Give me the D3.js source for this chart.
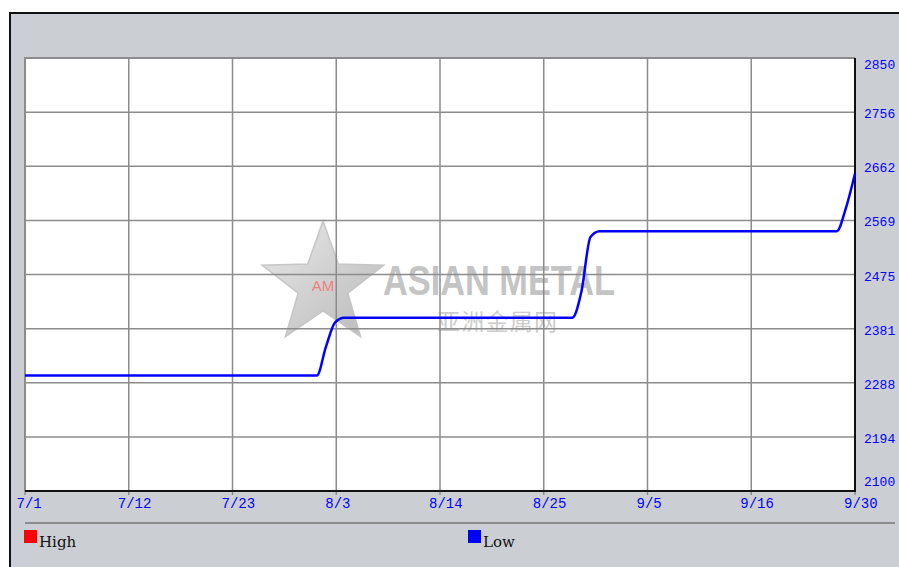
<!DOCTYPE html>
<html>
<head>
<meta charset="utf-8">
<script src="https://cdn.jsdelivr.net/npm/d3@7"></script>
<style>
  html, body { margin: 0; padding: 0; background: #ffffff; }
  svg { display: block; }
  .tick text { font-family: "Liberation Mono", "DejaVu Sans Mono", monospace; }
</style>
</head>
<body>
<div id="chart"></div>
<script>
// chart data
var xTickLabels = ['7/1', '7/12', '7/23', '8/3', '8/14', '8/25', '9/5', '9/16', '9/30'];
var yTickLabels = ['2100', '2194', '2288', '2381', '2475', '2569', '2662', '2756', '2850'];
var lowDays = [0, 32, 33, 34, 35, 60, 61, 62, 63, 89, 90, 91]; // days since 7/1
var lowPrices = [2300, 2300, 2350, 2392, 2400, 2400, 2445, 2540, 2550, 2550, 2590, 2650];
var legendNames = ['High', 'Low'];
var legendColors = ['#ff0000', '#0000ff'];

var W = 899, H = 567;
var PLOT = {left: 25, top: 58, right: 855, bottom: 491};
var DAYS = 91;

var svg = d3.select('#chart').append('svg')
   .attr('width', W)
   .attr('height', H);

// outer panel
svg.append('rect')
   .attr('x', 10).attr('y', 13)
   .attr('width', W + 20).attr('height', H + 20)
   .attr('fill', '#cbcfd3')
   .attr('stroke', '#111')
   .attr('stroke-width', 2);

var x = d3.scaleLinear().domain([0, DAYS]).range([PLOT.left, PLOT.right]);
var y = d3.scaleLinear().domain([2100, 2850]).range([PLOT.bottom, PLOT.top]);

var xTicks = xTickLabels.map(function(d, i){ return i * DAYS / (xTickLabels.length - 1); });
var yTicks = yTickLabels.map(function(d, i){ return 2100 + i * 750 / (yTickLabels.length - 1); });

// plot background
svg.append('rect')
   .attr('x', PLOT.left).attr('y', PLOT.top)
   .attr('width', PLOT.right - PLOT.left)
   .attr('height', PLOT.bottom - PLOT.top)
   .attr('fill', '#ffffff');

// watermark
var wm = svg.append('g');
var starPts = d3.range(10).map(function(i){
   var r = i % 2 ? 26 : 64;
   var a = -Math.PI / 2 + i * Math.PI / 5;
   return [323 + r * Math.cos(a), 285 + r * Math.sin(a)];
});
var grad = svg.append('defs').append('linearGradient')
   .attr('id', 'starGrad').attr('x1', 0).attr('y1', 0).attr('x2', 1).attr('y2', 1);
grad.append('stop').attr('offset', '0%').attr('stop-color', '#e4e4e4');
grad.append('stop').attr('offset', '100%').attr('stop-color', '#a8a8a8');
wm.append('polygon')
   .attr('points', starPts.map(function(p){ return p.join(','); }).join(' '))
   .attr('fill', 'url(#starGrad)')
   .attr('stroke', '#b8b8b8')
   .attr('stroke-width', 1.5)
   .attr('opacity', 0.8);
wm.append('text')
   .attr('x', 323).attr('y', 291)
   .attr('text-anchor', 'middle')
   .attr('font-family', 'Liberation Sans, Arial, sans-serif')
   .attr('font-size', 15)
   .attr('fill', '#f08080')
   .text('AM');
wm.append('text')
   .attr('x', 383).attr('y', 295)
   .attr('font-family', 'Liberation Sans, Arial, sans-serif')
   .attr('font-weight', 'bold')
   .attr('font-size', 42)
   .attr('textLength', 232)
   .attr('lengthAdjust', 'spacingAndGlyphs')
   .attr('fill', '#c4c4c4')
   .text('ASIAN METAL');
wm.append('text')
   .attr('x', 437).attr('y', 330)
   .attr('font-family', 'Noto Sans CJK SC, sans-serif')
   .attr('font-size', 23)
   .attr('textLength', 120)
   .attr('fill', '#cccccc')
   .text('亚洲金属网');

// grid
var grid = svg.append('g');
grid.selectAll('line.v')
   .data(xTicks)
   .enter()
   .append('line')
      .attr('x1', function(d){ return x(d); })
      .attr('x2', function(d){ return x(d); })
      .attr('y1', PLOT.top)
      .attr('y2', PLOT.bottom + 4)
      .attr('stroke', '#8c8c8c')
      .attr('stroke-width', 1.5);
grid.selectAll('line.h')
   .data(yTicks)
   .enter()
   .append('line')
      .attr('x1', PLOT.left)
      .attr('x2', PLOT.right)
      .attr('y1', function(d){ return y(d); })
      .attr('y2', function(d){ return y(d); })
      .attr('stroke', '#8c8c8c')
      .attr('stroke-width', 1.5);

// plot frame: grey top/left, dark bottom/right
svg.append('path')
   .attr('d', 'M' + PLOT.left + ',' + PLOT.bottom + 'V' + PLOT.top + 'H' + PLOT.right)
   .attr('fill', 'none').attr('stroke', '#8c8c8c').attr('stroke-width', 2);
svg.append('path')
   .attr('d', 'M' + PLOT.left + ',' + PLOT.bottom + 'H' + PLOT.right + 'V' + PLOT.top)
   .attr('fill', 'none').attr('stroke', '#111').attr('stroke-width', 2);

// low price line
var line = d3.line()
   .x(function(d){ return x(d[0]); })
   .y(function(d){ return y(d[1]); })
   .curve(d3.curveMonotoneX);

svg.append('path')
   .datum(lowDays.map(function(d, i){ return [d, lowPrices[i]]; }))
   .attr('d', line)
   .attr('fill', 'none')
   .attr('stroke', '#0000ff')
   .attr('stroke-width', 2.5);

// x axis labels
var xAxis = d3.axisBottom(x)
   .tickValues(xTicks)
   .tickSize(0)
   .tickFormat(function(d, i){ return xTickLabels[i]; });
var gx = svg.append('g')
   .attr('transform', 'translate(0,' + PLOT.bottom + ')')
   .call(xAxis);
gx.select('.domain').remove();
gx.selectAll('text')
   .attr('y', 17)
   .attr('dy', 0)
   .attr('text-anchor', 'start')
   .attr('dx', function(d, i){ return i == 0 ? -9 : -11.5; })
   .attr('fill', '#0000ff')
   .attr('font-size', 14);

// y axis labels, on the right
var yAxis = d3.axisRight(y)
   .tickValues(yTicks)
   .tickSize(0)
   .tickFormat(function(d, i){ return yTickLabels[i]; });
var gy = svg.append('g')
   .attr('transform', 'translate(' + (PLOT.right + 9) + ',0)')
   .call(yAxis);
gy.select('.domain').remove();
gy.selectAll('.tick')
   .attr('transform', function(d){
      var ty = Math.max(64, Math.min(481, y(d) + 1.5));
      return 'translate(0,' + ty + ')';
   });
gy.selectAll('text')
   .attr('x', 0)
   .attr('dy', '0.35em')
   .attr('fill', '#0000ff')
   .attr('font-size', 13);

// separator
svg.append('line')
   .attr('x1', PLOT.left).attr('x2', 895)
   .attr('y1', 523).attr('y2', 523)
   .attr('stroke', '#8c8c8c')
   .attr('stroke-width', 2);

// legend
var legend = svg.selectAll('g.legend')
   .data(legendNames)
   .enter()
   .append('g')
      .attr('transform', function(d, i){ return 'translate(' + (24 + i * 444) + ',530)'; });
legend.append('rect')
   .attr('width', 13).attr('height', 13)
   .attr('fill', function(d, i){ return legendColors[i]; });
legend.append('text')
   .attr('x', 15).attr('y', 17)
   .attr('font-family', 'DejaVu Serif, serif')
   .attr('font-size', 15)
   .attr('fill', '#111')
   .text(function(d){ return d; });
</script>
</body>
</html>
